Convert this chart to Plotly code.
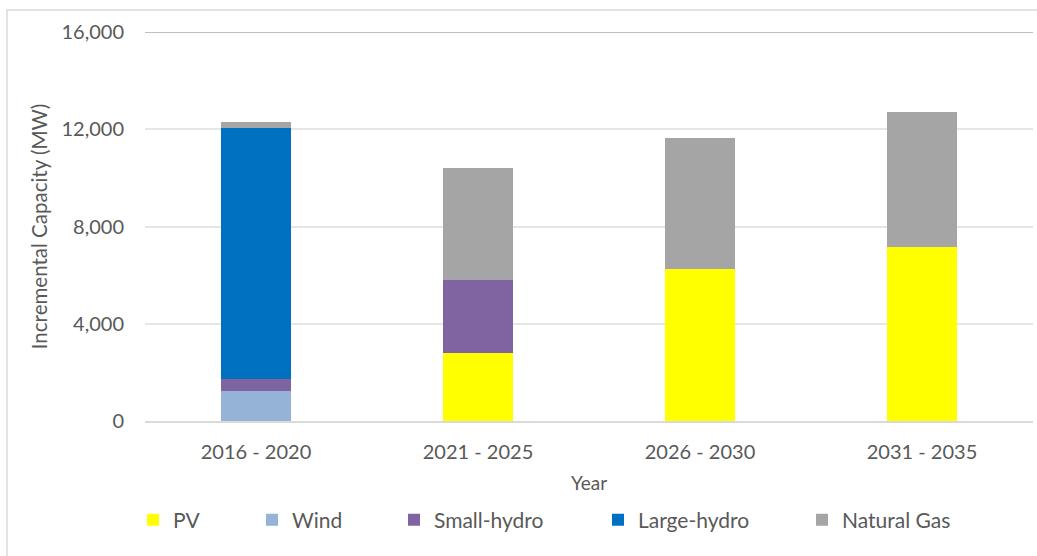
import plotly.graph_objects as go

# Incremental capacity additions by period (MW)
periods = ["2016 - 2020", "2021 - 2025", "2026 - 2030", "2031 - 2035"]
pv = [0, 2800, 6250, 7150]
wind = [1250, 0, 0, 0]
small_hydro = [460, 3000, 0, 0]
large_hydro = [10350, 0, 0, 0]
natural_gas = [250, 4600, 5380, 5550]

y_ticks = [0, 4000, 8000, 12000, 16000]

series = [
    ("PV", pv, "#FFFF00"),
    ("Wind", wind, "#95B3D7"),
    ("Small-hydro", small_hydro, "#8064A2"),
    ("Large-hydro", large_hydro, "#0070C0"),
    ("Natural Gas", natural_gas, "#A5A5A5"),
]

W, H = 1037, 556
FONT = "Lato, Carlito, Calibri, sans-serif"
TXT = "#595959"

# pixel x of each legend entry (one legend per series so spacing can be set)
legend_px = [133, 252, 394, 598, 802]
legend_names = ["legend", "legend2", "legend3", "legend4", "legend5"]

fig = go.Figure()
for (name, vals, color), lg in zip(series, legend_names):
    fig.add_trace(go.Bar(
        name=name, x=periods, y=vals, width=0.315,
        marker=dict(color=color, line=dict(width=0)),
        legend=lg, showlegend=True,
    ))

layout_legends = {}
for lg, px in zip(legend_names, legend_px):
    layout_legends[lg] = dict(
        xref="container", yref="container",
        x=px / W, y=1 - 520 / H, xanchor="left", yanchor="middle",
        orientation="h", bgcolor="rgba(0,0,0,0)",
        font=dict(family=FONT, size=21, color=TXT),
        itemwidth=30, tracegroupgap=0, visible=True,
    )

fig.update_layout(
    width=W, height=H,
    margin=dict(l=145, r=4, t=32, b=135),
    paper_bgcolor="white", plot_bgcolor="white",
    barmode="stack", bargap=0, showlegend=True,
    font=dict(family=FONT, color=TXT),
    xaxis=dict(
        title=dict(text="Year", font=dict(family=FONT, size=19, color=TXT), standoff=15),
        tickfont=dict(family=FONT, size=20, color=TXT),
        showgrid=False, showline=True, linecolor="#d9d9d9", linewidth=1.5,
        ticks="", ticklabelstandoff=12, range=[-0.5, 3.5],
    ),
    yaxis=dict(
        title=dict(text="Incremental Capacity (MW)", font=dict(family=FONT, size=20.5, color=TXT), standoff=8),
        tickfont=dict(family=FONT, size=20, color=TXT),
        range=[0, 16000], tickvals=y_ticks, tickformat=",",
        showgrid=True, gridcolor="#e6e6e6", gridwidth=1.5,
        zeroline=False, ticks="", ticklabelstandoff=20,
    ),
    shapes=[
        # darker top rule of the plot area
        dict(type="line", xref="paper", yref="y", x0=0, x1=1, y0=16000, y1=16000,
             line=dict(color="#bfbfbf", width=2)),
        # chart frame
        dict(type="rect", xref="paper", yref="paper",
             x0=(7 - 145) / 888, x1=(1040 - 145) / 888,
             y0=(421 - 560) / 389, y1=(421 - 10) / 389,
             line=dict(color="#d9d9d9", width=1.5), layer="below"),
    ],
    **layout_legends,
)

fig.write_html("out.html")
